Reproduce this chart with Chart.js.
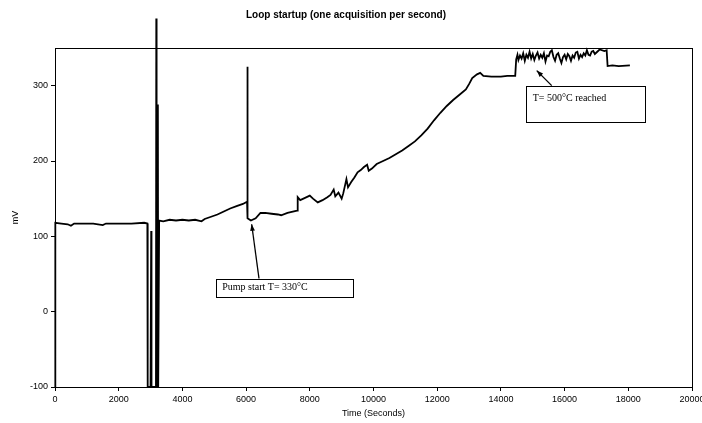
<!DOCTYPE html>
<html>
<head>
<meta charset="utf-8">
<script src="https://cdn.jsdelivr.net/npm/chart.js@4"></script>
<style>
  html, body { margin: 0; padding: 0; background: #fff; }
  #wrap { width: 702px; height: 423px; }
</style>
</head>
<body>
<div id="wrap"><canvas id="loopChart"></canvas></div>
<script>
// Loop startup trace (time in s, signal in mV)
const timeSec = [
  0, 10, 200, 400, 500, 600, 900, 1200, 1500, 1600, 2000, 2400, 2800, 2900,
  2910, 3000, 3020, 3030, 3170, 3180, 3190, 3220, 3230, 3240, 3260, 3270,
  3400, 3600, 3800, 4000, 4200, 4400, 4600, 4700, 4900, 5100, 5300, 5500, 5700, 5900, 6030,
  6040, 6050, 6150, 6300, 6450, 6600, 6800, 7000, 7100, 7300, 7500, 7600,
  7620, 7700, 7800, 8000, 8100, 8250, 8400, 8550, 8650, 8750, 8800, 8900, 9000, 9050,
  9150, 9200, 9300, 9400, 9500, 9600, 9700, 9800, 9850, 9950, 10100, 10300, 10500,
  10700, 10900, 11100, 11300, 11500, 11700, 11900, 12100, 12300, 12500, 12700, 12900,
  13000, 13100, 13250, 13350, 13450, 13700, 14000, 14200, 14450,
  14480, 14520, 14550, 14600, 14650, 14700, 14750, 14800, 14850, 14900, 14950, 15000,
  15050, 15100, 15150, 15200, 15250, 15300, 15350, 15400, 15450, 15500, 15550, 15600,
  15650, 15700, 15750, 15800, 15850, 15900, 15950, 16000, 16050, 16100, 16150, 16200,
  16250, 16300, 16350, 16400, 16450, 16500, 16550, 16600, 16650, 16700, 16750, 16800,
  16850, 16900, 16950, 17000, 17100, 17250, 17320, 17350, 17500, 17700, 18050
];
const mV = [
  -100, 118, 117, 116, 114, 117, 117, 117, 115, 117, 117, 117, 118, 117,
  -100, -100, 107, -100, -100, 389, -100, -100, 275, -100, -100, 121,
  120, 122, 121, 122, 121, 122, 120, 123, 126, 129, 133, 137, 140, 143, 146,
  325, 124, 121, 124, 131, 131, 130, 129, 128, 131, 133, 134,
  152, 148, 150, 154, 150, 145, 148, 152, 155, 162, 153, 158, 150, 157,
  176, 165, 172, 178, 185, 188, 192, 195, 187, 190, 196, 200, 204,
  209, 214, 220, 226, 234, 243, 254, 264, 273, 281, 288, 295,
  302, 310, 315, 317, 313, 312, 312, 313, 313,
  335, 341, 334, 340, 336, 343, 333, 341, 337, 345, 336, 342,
  334, 340, 344, 336, 341, 337, 343, 332, 340, 339, 345, 347,
  338, 333, 341, 343, 336, 330, 338, 341, 335, 342, 339, 333,
  340, 337, 344, 345, 336, 341, 338, 343, 340, 347, 341, 340,
  345, 346, 342, 344, 348, 346, 347, 326, 327, 326, 327
];
const xTicks = [0, 2000, 4000, 6000, 8000, 10000, 12000, 14000, 16000, 18000, 20000];
const yTicks = [-100, 0, 100, 200, 300];

// callout boxes, anchored in data units
const callouts = [
  { text: 'Pump start T= 330°C', box: [5055, 44, 9357, 20], textAt: [5250, 32],
    from: [6405, 44], to: [6175, 116] },
  { text: 'T= 500°C reached', box: [14790, 299, 18525, 251], textAt: [15000, 283],
    from: [15595, 300], to: [15125, 320] }
];

const framePlugin = {
  id: 'frameAndCallouts',
  afterDatasetsDraw(chart) {
    const { ctx, chartArea: a, scales: { x, y } } = chart;
    ctx.save();
    ctx.strokeStyle = '#000';
    ctx.lineWidth = 1;
    ctx.strokeRect(a.left + 0.5, a.top + 0.5, a.right - a.left, a.bottom - a.top);

    callouts.forEach(c => {
      const x1 = x.getPixelForValue(c.box[0]), y1 = y.getPixelForValue(c.box[1]);
      const x2 = x.getPixelForValue(c.box[2]), y2 = y.getPixelForValue(c.box[3]);
      ctx.fillStyle = '#fff';
      ctx.fillRect(x1, y1, x2 - x1, y2 - y1);
      ctx.strokeStyle = '#000';
      ctx.lineWidth = 1;
      ctx.strokeRect(Math.round(x1) + 0.5, Math.round(y1) + 0.5, Math.round(x2 - x1), Math.round(y2 - y1));
      ctx.fillStyle = '#000';
      ctx.font = '10px "Liberation Serif", serif';
      ctx.textBaseline = 'middle';
      ctx.fillText(c.text, x.getPixelForValue(c.textAt[0]), y.getPixelForValue(c.textAt[1]));

      // arrow
      const fx = x.getPixelForValue(c.from[0]), fy = y.getPixelForValue(c.from[1]);
      const tx = x.getPixelForValue(c.to[0]), ty = y.getPixelForValue(c.to[1]);
      ctx.lineWidth = 1.3;
      ctx.beginPath();
      ctx.moveTo(fx, fy);
      ctx.lineTo(tx, ty);
      ctx.stroke();
      const ang = Math.atan2(ty - fy, tx - fx);
      ctx.beginPath();
      ctx.moveTo(tx, ty);
      ctx.lineTo(tx - 7 * Math.cos(ang - 0.35), ty - 7 * Math.sin(ang - 0.35));
      ctx.lineTo(tx - 7 * Math.cos(ang + 0.35), ty - 7 * Math.sin(ang + 0.35));
      ctx.closePath();
      ctx.fill();
    });
    ctx.restore();
  }
};

const tickFont = { family: '"Liberation Sans", Arial, sans-serif', size: 9 };

new Chart(document.getElementById('loopChart'), {
  type: 'line',
  data: {
    datasets: [{
      data: timeSec.map((t, i) => ({ x: t, y: mV[i] })),
      borderColor: '#000',
      borderWidth: 1.8,
      pointRadius: 0,
      tension: 0,
      clip: false
    }]
  },
  options: {
    responsive: true,
    maintainAspectRatio: false,
    animation: false,
    layout: { padding: { left: 0, right: 10, top: 0, bottom: 0 } },
    plugins: {
      legend: { display: false },
      tooltip: { enabled: false },
      title: {
        display: true,
        text: 'Loop startup (one acquisition per second)',
        color: '#000',
        font: { family: '"Liberation Sans", Arial, sans-serif', size: 10, weight: 'bold' },
        padding: { top: 9, bottom: 27 }
      }
    },
    scales: {
      x: {
        type: 'linear',
        min: 0,
        max: 20000,
        afterBuildTicks: s => { s.ticks = xTicks.map(v => ({ value: v })); },
        afterFit: s => { s.height = 36; s.paddingLeft = 0; s.paddingRight = 0; },
        ticks: { color: '#000', font: tickFont, padding: 3, maxRotation: 0, autoSkip: false,
          callback: v => String(v) },
        grid: { drawOnChartArea: false, drawTicks: true, tickLength: 4, color: '#000' },
        border: { display: true, color: '#000', width: 1 },
        title: {
          display: true, text: 'Time (Seconds)', color: '#000', font: tickFont,
          padding: { top: 4, bottom: 4 }
        }
      },
      y: {
        min: -100,
        max: 350,
        afterBuildTicks: s => { s.ticks = yTicks.map(v => ({ value: v })); },
        afterFit: s => { s.width = 55; s.paddingTop = 0; s.paddingBottom = 0; },
        ticks: { color: '#000', font: tickFont, padding: 3 },
        grid: { drawOnChartArea: false, drawTicks: true, tickLength: 4, color: '#000' },
        border: { display: true, color: '#000', width: 1 },
        title: {
          display: true, text: 'mV', color: '#000', font: tickFont,
          padding: { top: 10, bottom: 0 }
        }
      }
    }
  },
  plugins: [framePlugin]
});
</script>
</body>
</html>
